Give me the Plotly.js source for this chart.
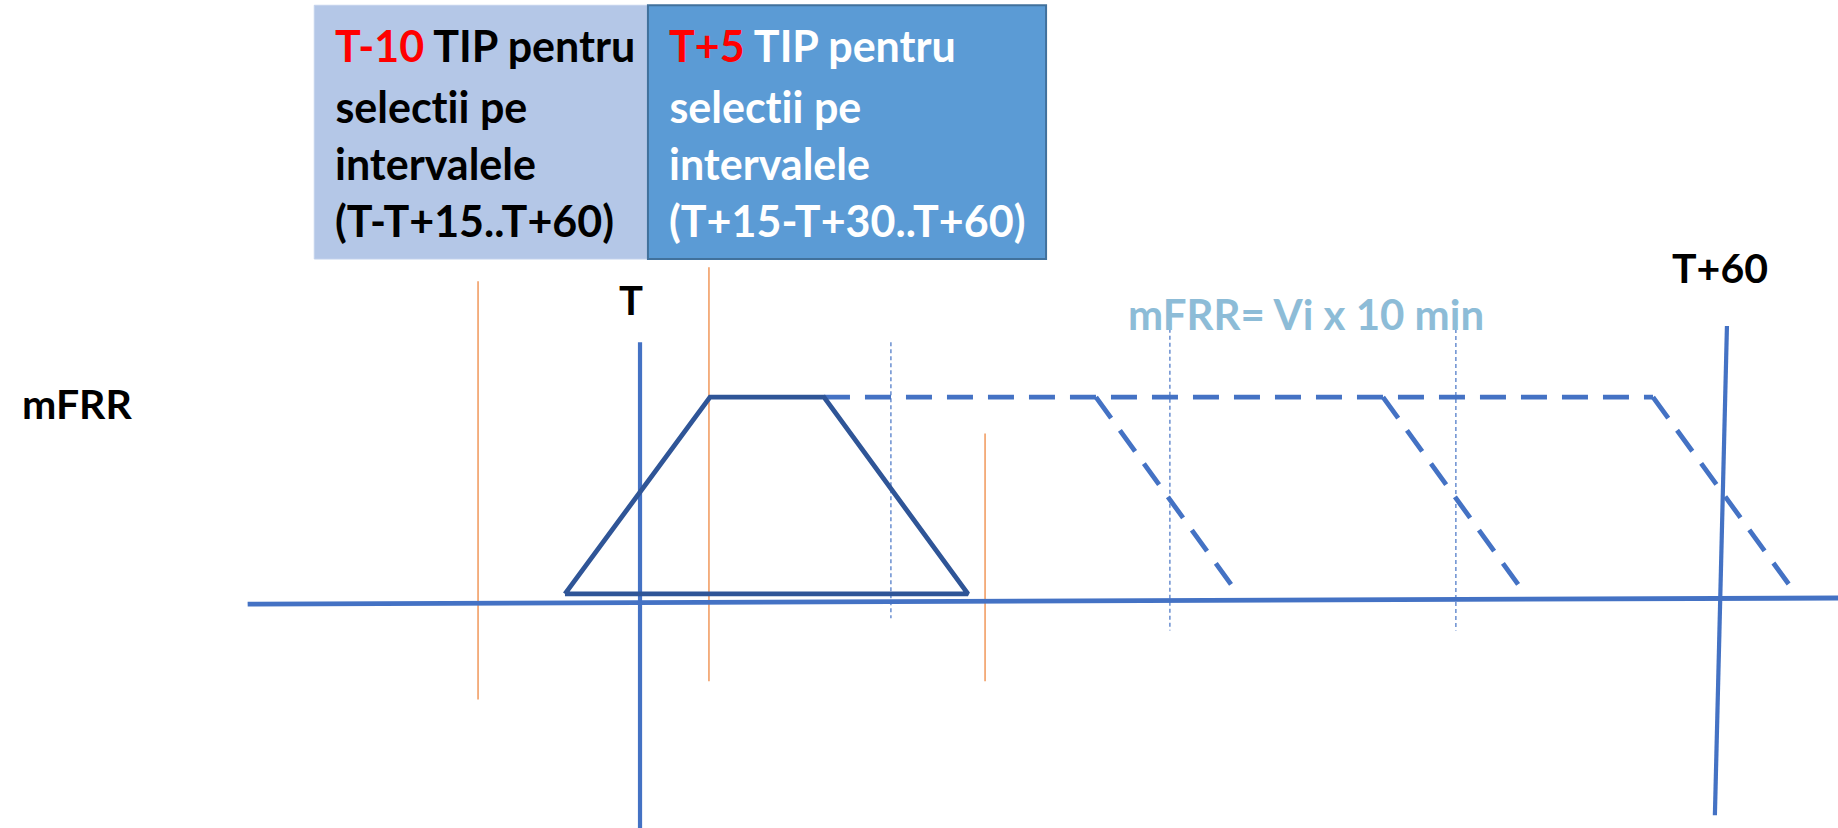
<!DOCTYPE html>
<html>
<head>
<meta charset="utf-8">
<script src="https://cdn.plot.ly/plotly-3.0.1.min.js"></script>
<style>html,body{margin:0;padding:0;background:#fff;}#chart{width:1838px;height:828px;}
#chart text{font-variant-ligatures:none;font-feature-settings:"liga" 0,"clig" 0;}</style>
</head>
<body>
<div id="chart"></div>
<script>
// ---- data (x in minutes relative to T, y in mFRR level units) ----
const baselineX = [-21.8, 66.6];
const baselineY = [-0.02, 0.01];

const trapezX = [-4.17, 3.89, 10.22, 18.22, -4.17];
const trapezY = [0.03, 1, 1, 0.03, 0.03];

const dashTopX = [10.22, 56.28];
const dashTopY = [1, 1];

const slant1X = [25.33, 33.3];
const slant2X = [41.28, 49.25];
const slant3X = [56.28, 64.3];
const slantY = [1, 0.02];

const axisTX = [0, 0];
const axisTY = [1.27, -1.15];
const axisT60X = [60.39, 59.72];
const axisT60Y = [1.35, -1.06];

const orange1X = [-9.0, -9.0];
const orange1Y = [1.57, -0.49];
const orange2X = [3.83, 3.83];
const orange2Y = [1.64, -0.40];
const orange3X = [19.17, 19.17];
const orange3Y = [0.82, -0.40];

const dot1X = [13.94, 13.94];
const dot1Y = [1.27, -0.09];
const dot2X = [29.44, 29.44];
const dot2Y = [1.44, -0.15];
const dot3X = [45.33, 45.33];
const dot3Y = [1.37, -0.15];

const leftBoxX = [-18.1, 0.44];
const rightBoxX = [0.44, 22.56];
const boxY = [1.68, 2.93];

const leftBoxLines = ["<span style='color:#ff0000'>T-10</span> TIP pentru", "selectii pe", "intervalele", "(T-T+15..T+60)"];
const rightBoxLines = ["<span style='color:#ff0000'>T+5</span> TIP pentru", "selectii pe", "intervalele", "(T+15-T+30..T+60)"];
const boxLineY = [2.73, 2.43, 2.15, 1.87];
const leftTextX = -17.05;
const rightTextX = 1.5;

const labelTexts = ["T", "T+60", "mFRR", "mFRR= Vi x 10 min"];
const labelX = [-0.5, 60.0, -31.3, 37.0];
const labelY = [1.48, 1.64, 0.97, 1.41];

// ---- styles ----
const BLUE = '#4472c4';
const DARK = '#2f5597';
const ORANGE = '#ed7d31';
const FONT = 'Lato, "Open Sans", sans-serif';

function line(x, y, color, width, dash) {
  return {x: x, y: y, type: 'scatter', mode: 'lines', hoverinfo: 'skip', showlegend: false,
          line: {color: color, width: width, dash: dash || 'solid'}};
}

const traces = [
  line(orange1X, orange1Y, ORANGE, 1.2),
  line(orange2X, orange2Y, ORANGE, 1.2),
  line(orange3X, orange3Y, ORANGE, 1.2),
  line(dot1X, dot1Y, BLUE, 1.2, '4px,3px'),
  line(dot2X, dot2Y, BLUE, 1.2, '4px,3px'),
  line(dot3X, dot3Y, BLUE, 1.2, '4px,3px'),
  line(baselineX, baselineY, BLUE, 4.8),
  line(axisTX, axisTY, BLUE, 4.2),
  line(axisT60X, axisT60Y, BLUE, 4.2),
  line(dashTopX, dashTopY, BLUE, 4.8, '26px,15px'),
  line(slant1X, slantY, BLUE, 4.8, '26px,15px'),
  line(slant2X, slantY, BLUE, 4.8, '26px,15px'),
  line(slant3X, slantY, BLUE, 4.8, '26px,15px'),
  line(trapezX, trapezY, DARK, 4.8)
];

const annotations = [];
leftBoxLines.forEach((t, i) => annotations.push({x: leftTextX, y: boxLineY[i], xref: 'x', yref: 'y', text: t,
  showarrow: false, xanchor: 'left', yanchor: 'middle', font: {family: FONT, size: 43, color: '#000000', weight: 'bold'}}));
rightBoxLines.forEach((t, i) => annotations.push({x: rightTextX, y: boxLineY[i], xref: 'x', yref: 'y', text: t,
  showarrow: false, xanchor: 'left', yanchor: 'middle', font: {family: FONT, size: 43, color: '#ffffff', weight: 'bold'}}));
const labelColors = ['#000000', '#000000', '#000000', '#8dbcd7'];
const labelSizes = [40, 41, 41, 42];
labelTexts.forEach((t, i) => annotations.push({x: labelX[i], y: labelY[i], xref: 'x', yref: 'y', text: t,
  showarrow: false, xanchor: 'center', yanchor: 'middle', font: {family: FONT, size: labelSizes[i], color: labelColors[i], weight: 'bold'}}));

const shapes = [
  {type: 'rect', xref: 'x', yref: 'y', x0: leftBoxX[0], x1: leftBoxX[1], y0: boxY[0], y1: boxY[1],
   fillcolor: '#b4c7e7', line: {color: '#c3d2ec', width: 1}, layer: 'below'},
  {type: 'rect', xref: 'x', yref: 'y', x0: rightBoxX[0], x1: rightBoxX[1], y0: boxY[0], y1: boxY[1],
   fillcolor: '#5b9bd5', line: {color: '#41719c', width: 2}, layer: 'below'}
];

const layout = {
  width: 1838, height: 828,
  margin: {l: 0, r: 0, t: 0, b: 0},
  paper_bgcolor: '#ffffff', plot_bgcolor: '#ffffff',
  xaxis: {range: [-35.56, 66.56], visible: false, fixedrange: true},
  yaxis: {range: [-1.123, 2.956], visible: false, fixedrange: true},
  showlegend: false,
  annotations: annotations,
  shapes: shapes
};

Plotly.newPlot('chart', traces, layout, {displayModeBar: false, staticPlot: true});
</script>
</body>
</html>
